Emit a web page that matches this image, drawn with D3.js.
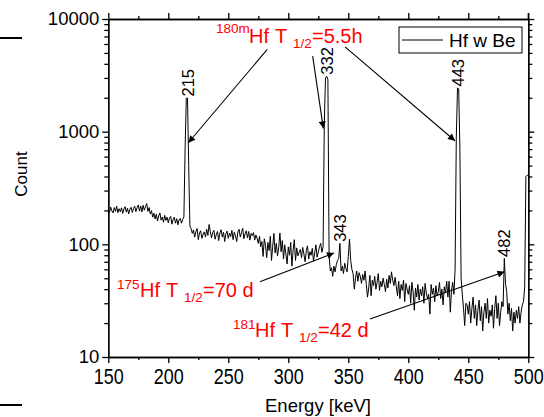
<!DOCTYPE html>
<html><head><meta charset="utf-8">
<script src="https://cdn.jsdelivr.net/npm/d3@7"></script>
<style>
body{margin:0;background:#fff}
svg{display:block}
text{font-family:"Liberation Sans",Arial,Helvetica,sans-serif}
</style>
</head><body>
<script>
// ---- data ----
const energyStart = 150;   // keV, first bin
const energyStep = 1;      // keV per bin
const counts = [
 205,192,214,198,190,212,196,218,191,207,
 195,211,188,206,216,193,209,186,205,213,
 192,208,218,195,211,224,197,219,194,222,
 201,216,230,196,212,186,199,174,189,168,
 185,161,179,190,164,175,157,181,163,174,
 155,172,177,151,166,174,154,169,149,165,
 170,154,166,175,700,1980,1990,500,145,138,
 125,134,116,130,138,110,126,132,113,123,
 129,116,136,120,150,130,114,127,133,111,
 122,130,108,126,135,116,128,106,124,131,
 113,126,117,133,110,128,119,106,129,136,
 116,127,139,112,124,132,114,130,109,125,
 119,127,109,121,113,102,118,95,106,78,
 112,98,76,104,88,118,72,96,125,84,
 102,79,93,126,86,108,74,99,82,67,
 95,80,104,64,88,110,72,93,79,85,
 90,76,94,82,70,88,97,74,86,80,
 92,71,84,99,77,86,95,102,85,95,
 1200,3000,3110,2900,80,58,62,52,64,57,
 66,72,75,102,58,64,55,68,61,57,
 78,111,72,60,55,40,50,58,47,56,
 52,45,54,48,58,44,34,41,53,35,
 48,43,52,40,46,55,39,47,42,50,
 44,38,49,41,53,45,57,48,43,51,
 42,35,47,33,44,39,48,31,45,40,
 36,43,30,46,38,26,41,34,44,32,
 40,35,42,30,45,37,33,36,24,44,
 36,41,31,43,35,38,46,33,40,29,
 42,37,47,34,47,25,39,46,36,60,
 900,2440,2400,700,50,36,27,19,30,29,
 24,31,20,27,34,22,29,19,26,32,
 21,28,17,25,30,22,33,20,26,23,
 29,18,27,35,22,30,19,25,31,28,
 75,45,38,24,30,21,27,17,25,20,
 26,22,28,20,25,29,31,42,400,410,
 410
];
const seriesName = "Hf w Be";
const xMajorTicks = [150,200,250,300,350,400,450,500];
const xMinorTicks = [175,225,275,325,375,425,475];
const yMajorTicks = [10,100,1000,10000];
const yMinorTicks = [20,30,40,50,60,70,80,90,200,300,400,500,600,700,800,900,2000,3000,4000,5000,6000,7000,8000,9000];
const peakLabels = ["215","332","443","343","482"];
const peakBins   = [216, 332, 441, 343, 480];
// annotation arrows in data space: [E0, C0, E1, C1]
const arrowsData = [
 [282.5,5375,216.7,797],
 [320.3,4688,329.2,1069],
 [347.3,5665,438.9,830],
 [276.4,46.6,338.1,83.7],
 [368.1,21.7,480.2,57.1]
];

// ---- layout ----
const W=544,H=417;
const L=108.3,R=528.3,T=19,B=357;
const svg=d3.select("body").append("svg").attr("width",W).attr("height",H);
const energies = counts.map((c,i)=>energyStart+i*energyStep);
const x=d3.scaleLinear().domain([150,500]).range([L,R]);
const y=d3.scaleLog().domain([10,10000]).range([B,T]);

svg.append("defs").append("marker").attr("id","ah").attr("viewBox","0 0 10 10")
 .attr("refX",10).attr("refY",5).attr("markerWidth",9).attr("markerHeight",7)
 .attr("markerUnits","userSpaceOnUse").attr("orient","auto")
 .append("path").attr("d","M0,0L10,5L0,10z").attr("fill","#000");

// crop artefacts at left edge
svg.append("line").attr("x1",0).attr("x2",22).attr("y1",38).attr("y2",38).attr("stroke","#000").attr("stroke-width",2);
svg.append("line").attr("x1",0).attr("x2",22).attr("y1",405).attr("y2",405).attr("stroke","#000").attr("stroke-width",2);

// spectrum
svg.append("path").datum(counts)
 .attr("d",d3.line().x((d,i)=>x(energies[i])).y(d=>y(d)))
 .attr("fill","none").attr("stroke","#000").attr("stroke-width",1);

// axes
function styleAxis(g){g.selectAll("path,line").attr("stroke","#000").attr("stroke-width",1.3);}
const fmt=d3.format("d");
svg.append("g").attr("transform",`translate(${L},0)`)
 .call(d3.axisLeft(y).tickValues(yMajorTicks).tickFormat(fmt).tickSize(6).tickSizeOuter(0))
 .call(styleAxis)
 .call(g=>g.selectAll("text").attr("font-size",18.5).attr("fill","#000").attr("font-family","Liberation Sans, Arial, sans-serif"));
svg.append("g").attr("transform",`translate(${L},0)`)
 .call(d3.axisLeft(y).tickValues(yMinorTicks).tickFormat("").tickSize(4).tickSizeOuter(0))
 .call(styleAxis);
svg.append("g").attr("transform",`translate(${R},0)`)
 .call(d3.axisRight(y).tickValues(yMajorTicks).tickFormat("").tickSize(6).tickSizeOuter(0))
 .call(styleAxis);
svg.append("g").attr("transform",`translate(${R},0)`)
 .call(d3.axisRight(y).tickValues(yMinorTicks).tickFormat("").tickSize(4).tickSizeOuter(0))
 .call(styleAxis);
svg.append("line").attr("x1",R).attr("x2",R).attr("y1",13).attr("y2",T).attr("stroke","#000").attr("stroke-width",1.3);
svg.append("g").attr("transform",`translate(0,${B})`)
 .call(d3.axisBottom(x).tickValues(xMajorTicks).tickFormat(fmt).tickSize(6).tickSizeOuter(0))
 .call(styleAxis)
 .call(g=>g.selectAll("text").attr("font-size",18).attr("fill","#000").attr("y",0).attr("dy",0)
   .attr("transform","translate(0,27) scale(1,1.22)").attr("font-family","Liberation Sans, Arial, sans-serif"));
svg.append("g").attr("transform",`translate(0,${B})`)
 .call(d3.axisBottom(x).tickValues(xMinorTicks).tickFormat("").tickSize(3).tickSizeOuter(0))
 .call(styleAxis);
svg.append("g").attr("transform",`translate(0,${T})`)
 .call(d3.axisTop(x).tickValues(xMajorTicks).tickFormat("").tickSize(6).tickSizeOuter(0))
 .call(styleAxis);
svg.append("g").attr("transform",`translate(0,${T})`)
 .call(d3.axisTop(x).tickValues(xMinorTicks).tickFormat("").tickSize(3).tickSizeOuter(0))
 .call(styleAxis);

// axis titles
svg.append("text").attr("transform","translate(26.5,174) rotate(-90)").attr("text-anchor","middle")
 .attr("font-size",17).text("Count");
svg.append("text").attr("x",318).attr("y",412).attr("text-anchor","middle")
 .attr("font-size",18.5).text("Energy [keV]");

// peak labels
peakLabels.forEach((lab,k)=>{
  const b=peakBins[k], i=(b-energyStart)/energyStep;
  const px=x(energies[i])+6, py=y(counts[i])-1.5;
  svg.append("text").attr("transform",`translate(${px},${py}) rotate(-90)`)
   .attr("font-size",16.5).attr("text-anchor","start").text(lab);
});

// arrows
arrowsData.forEach(a=>{
  svg.append("line").attr("x1",x(a[0])).attr("y1",y(a[1])).attr("x2",x(a[2])).attr("y2",y(a[3]))
   .attr("stroke","#000").attr("stroke-width",1.1).attr("marker-end","url(#ah)");
});

// red annotations
function note(x0,yb,sup,rest,subDy,supDy){
  const g=svg.append("g").attr("fill","#ff0000");
  const pieces=[
    {t:sup.t, dx:0, dy:-supDy, s:13.5},
    {t:"Hf", dx:sup.w, dy:0, s:20},
    {t:"T", dx:sup.w+26, dy:0, s:20},
    {t:"1/2", dx:sup.w+44, dy:subDy, s:13.5},
    {t:rest, dx:sup.w+63, dy:0, s:20}
  ];
  pieces.forEach(p=>g.append("text").attr("x",x0+p.dx).attr("y",yb+p.dy).attr("font-size",p.s).text(p.t));
}
note(216,43,{t:"180m",w:33},"=5.5h",5,10);
note(117,297,{t:"175",w:23},"=70 d",5,8);
note(233,337,{t:"181",w:22},"=42 d",5,8);

// legend
const lg=svg.append("g");
lg.append("rect").attr("x",399).attr("y",27).attr("width",123).attr("height",26)
 .attr("fill","#fff").attr("stroke","#000").attr("stroke-width",1);
lg.append("line").attr("x1",402).attr("x2",443).attr("y1",40).attr("y2",40).attr("stroke","#000").attr("stroke-width",1);
lg.append("text").attr("x",449).attr("y",47).attr("font-size",19).text(seriesName);
</script>
</body></html>
